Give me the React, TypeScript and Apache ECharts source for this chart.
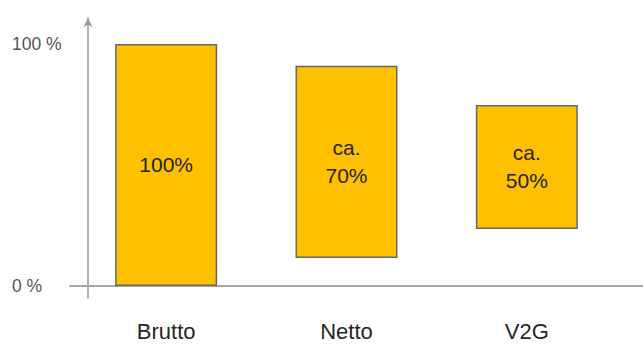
import React, { useEffect, useRef } from "react";
import * as echarts from "echarts";

const categories = ["Brutto", "Netto", "V2G"];
const lowerValues = [0, 11.5, 23.5];
const upperValues = [100, 91, 74.8];
const barLabels = ["100%", "ca.\n70%", "ca.\n50%"];
const yTickLabels: Record<number, string> = { 0: "0 %", 100: "100 %" };

const FONT = "'Liberation Sans', Arial, Helvetica, sans-serif";

export default function App() {
  const ref = useRef<HTMLDivElement>(null);
  useEffect(() => {
    document.body.style.margin = "0";
    if (!ref.current) return;
    const chart = echarts.init(ref.current, null, { renderer: "svg" });
    const heights = upperValues.map((u, i) => u - lowerValues[i]);
    chart.setOption({
      animation: false,
      backgroundColor: "#ffffff",
      grid: [
        { left: 76, right: 26, top: 18, bottom: 47 },
        { left: 70, right: 0, top: 18, bottom: 59 },
      ],
      xAxis: [
        {
          type: "category",
          gridIndex: 0,
          data: categories,
          axisLine: { show: false, onZero: false },
          axisTick: { show: false },
          axisLabel: {
            margin: 22,
            fontSize: 22,
            color: "#262626",
            fontFamily: FONT,
          },
          splitLine: { show: false },
        },
        {
          type: "value",
          gridIndex: 1,
          min: 0,
          max: 1,
          axisLine: { show: true, onZero: false, lineStyle: { color: "#a6a6a6", width: 2 } },
          axisTick: { show: false },
          axisLabel: { show: false },
          splitLine: { show: false },
        },
      ],
      yAxis: [
        {
          type: "value",
          gridIndex: 0,
          min: -5,
          max: 110.7,
          interval: 5,
          offset: -12,
          axisLine: {
            show: true,
            onZero: false,
            symbol: ["none", "arrow"],
            symbolSize: [7, 9],
            lineStyle: { color: "#9a9a9a", width: 1.5 },
          },
          axisTick: { show: false },
          splitLine: { show: false },
          axisLabel: {
            margin: 76,
            align: "left",
            fontSize: 17.5,
            color: "#555555",
            fontFamily: FONT,
            formatter: (v: number) => yTickLabels[v] ?? "",
          },
        },
        {
          type: "value",
          gridIndex: 1,
          show: false,
          min: 0,
          max: 1,
        },
      ],
      series: [
        {
          type: "bar",
          xAxisIndex: 0,
          yAxisIndex: 0,
          stack: "s",
          data: lowerValues,
          barWidth: 102,
          itemStyle: { color: "transparent" },
          silent: true,
        },
        {
          type: "bar",
          xAxisIndex: 0,
          yAxisIndex: 0,
          stack: "s",
          data: heights,
          barWidth: 102,
          itemStyle: { color: "#ffc000", borderColor: "#666666", borderWidth: 1.5 },
          label: {
            show: true,
            position: "inside",
            fontSize: 21,
            lineHeight: 28,
            color: "#262626",
            fontFamily: FONT,
            formatter: (p: any) => barLabels[p.dataIndex],
          },
        },
      ],
    });
    return () => chart.dispose();
  }, []);
  return <div ref={ref} style={{ width: 643, height: 345 }} />;
}
